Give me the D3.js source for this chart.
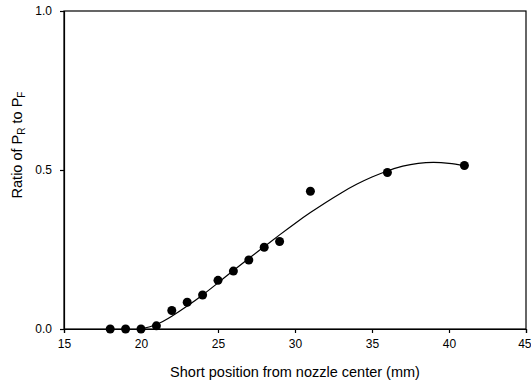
<!DOCTYPE html>
<html><head><meta charset="utf-8">
<script src="https://cdn.jsdelivr.net/npm/d3@7"></script>
<style>body{margin:0;background:#fff}svg{display:block}text{font-family:"Liberation Sans",Arial,sans-serif;fill:#000}</style>
</head><body>
<svg id="c" width="531" height="385"></svg>
<script>
const pointX = [18,19,20,21,22,23,24,25,26,27,28,29,31,36,41];
const pointY = [0,0,0,0.01,0.058,0.084,0.107,0.153,0.182,0.217,0.257,0.275,0.433,0.492,0.514];
const fitX = [20,21,22,23,24,25,26,27,28,29,30,31,32,33,34,35,36,37,38,39,40,41];
const fitY = [0,0.014,0.04,0.072,0.107,0.145,0.184,0.222,0.259,0.296,0.332,0.366,0.398,0.428,0.455,0.478,0.497,0.512,0.521,0.524,0.521,0.514];
const xTicks = [15,20,25,30,35,40,45];
const yTicks = [0,0.5,1.0];
const yTickLabels = ["0.0","0.5","1.0"];

const svg = d3.select("#c");
const L=64,R=526,T=11,B=329;
const x = d3.scaleLinear().domain([15,45]).range([L,R]);
const y = d3.scaleLinear().domain([0,1]).range([B,T]);

svg.append("rect").attr("x",L).attr("y",T).attr("width",R-L).attr("height",B-T)
  .attr("fill","none").attr("stroke","#000").attr("stroke-width",1.2);

const xa = svg.append("g").attr("transform",`translate(0,${B})`)
  .call(d3.axisBottom(x).tickValues(xTicks).tickSize(4).tickPadding(6).tickFormat(d3.format("d")));
const ya = svg.append("g").attr("transform",`translate(${L},0)`)
  .call(d3.axisLeft(y).tickValues(yTicks).tickSize(4).tickPadding(8).tickFormat((d,i)=>yTickLabels[i]));
[xa,ya].forEach(g=>{
  g.select(".domain").attr("stroke","#000").attr("stroke-width",1.2);
  g.selectAll(".tick line").attr("stroke","#000").attr("stroke-width",1.2);
  g.selectAll("text").attr("font-size",12).attr("font-family","Liberation Sans, Arial, sans-serif").attr("fill","#000");
});
xa.selectAll(".tick text").filter(d=>d===45).attr("text-anchor","end").attr("dx",5);

const line = d3.line().x(d=>x(d[0])).y(d=>y(d[1])).curve(d3.curveNatural);
svg.append("path").datum(fitX.map((v,i)=>[v,fitY[i]]))
  .attr("d",line).attr("fill","none").attr("stroke","#000").attr("stroke-width",1.2);

svg.append("g").selectAll("circle").data(pointX.map((v,i)=>[v,pointY[i]]))
  .join("circle").attr("cx",d=>x(d[0])).attr("cy",d=>y(d[1])).attr("r",4.5).attr("fill","#000");

svg.append("text").attr("x",295).attr("y",377).attr("text-anchor","middle")
  .attr("font-size",14.5).text("Short position from nozzle center (mm)");

const yt = svg.append("text").attr("transform","translate(22,145) rotate(-90)")
  .attr("text-anchor","middle").attr("font-size",14.5);
yt.append("tspan").text("Ratio of P");
yt.append("tspan").attr("font-size",10).attr("dy",3).text("R");
yt.append("tspan").attr("dy",-3).text(" to P");
yt.append("tspan").attr("font-size",10).attr("dy",3).text("F");
</script>
</body></html>
